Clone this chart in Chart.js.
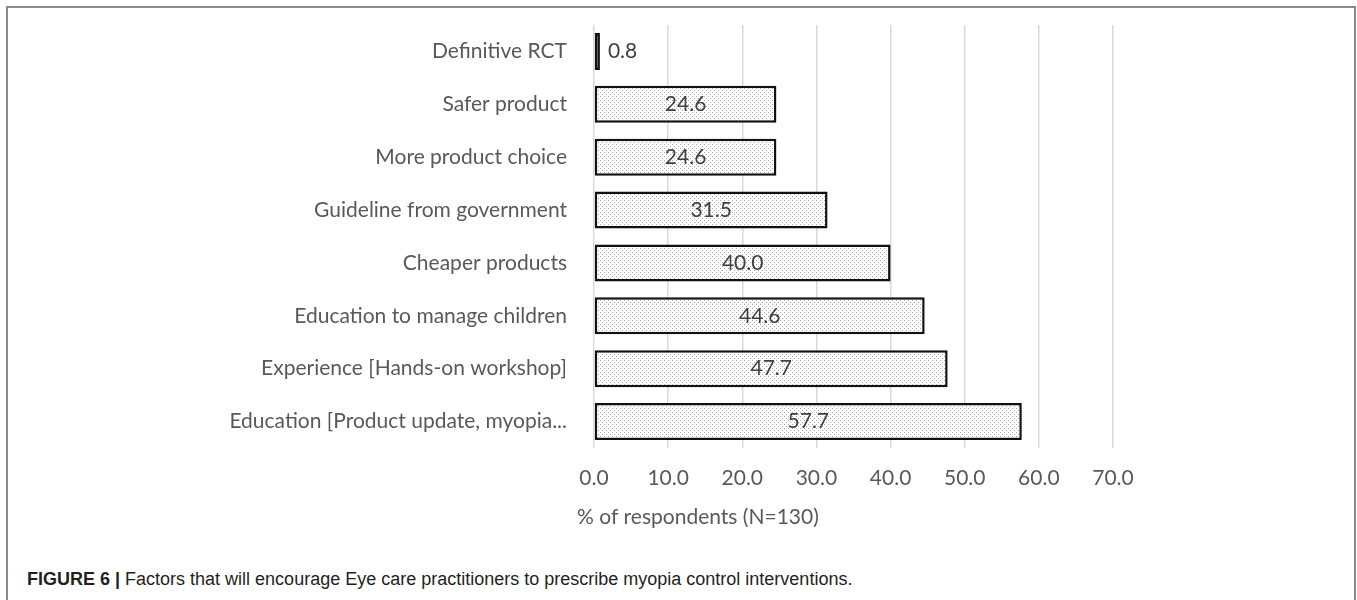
<!DOCTYPE html>
<html>
<head>
<meta charset="utf-8">
<script src="https://cdn.jsdelivr.net/npm/chart.js@4.4.0/dist/chart.umd.min.js"></script>
<style>
  body { margin: 0; background: #fff; width: 1357px; height: 600px; overflow: hidden; position: relative; }
  #frame { position: absolute; left: 6px; top: 6px; width: 1346px; height: 620px; border: 2px solid #8a8a8a; }
  #chartBox { position: absolute; left: 0; top: 0; width: 1357px; height: 560px; }
  #caption { position: absolute; left: 27px; top: 569px; font-family: "Liberation Sans", Arial, sans-serif; font-size: 18px; color: #231f20; white-space: nowrap; }
  #caption b { font-weight: bold; }
</style>
</head>
<body>
<div id="frame"></div>
<div id="chartBox"><canvas id="myChart" width="1357" height="560"></canvas></div>
<div id="caption"><b>FIGURE 6 |</b> Factors that will encourage Eye care practitioners to prescribe myopia control interventions.</div>
<script>
let factors = [
    'Definitive RCT',
    'Safer product',
    'More product choice',
    'Guideline from government',
    'Cheaper products',
    'Education to manage children',
    'Experience [Hands-on workshop]',
    'Education [Product update, myopia...'
];
let percentValues = [0.8, 24.6, 24.6, 31.5, 40.0, 44.6, 47.7, 57.7];
let xTicks = [0, 10, 20, 30, 40, 50, 60, 70];
let axisTitle = '% of respondents (N=130)';

let labelFont = '"Lato", "Open Sans", sans-serif';

// dotted fill like the original bars
let tile = document.createElement('canvas');
tile.width = 4;
tile.height = 4;
let tctx = tile.getContext('2d');
tctx.fillStyle = '#ffffff';
tctx.fillRect(0, 0, 4, 4);
tctx.fillStyle = '#ababab';
tctx.fillRect(0, 0, 1, 1);
tctx.fillRect(2, 2, 1, 1);

let ctx = document.getElementById('myChart').getContext('2d');
let dots = ctx.createPattern(tile, 'repeat');

let valueLabels = {
    id: 'valueLabels',
    afterDatasetsDraw(chart) {
        let c = chart.ctx;
        let meta = chart.getDatasetMeta(0);
        c.save();
        c.font = '21px ' + labelFont;
        c.fillStyle = '#404040';
        c.textBaseline = 'middle';
        meta.data.forEach(function(bar, i) {
            let txt = percentValues[i].toFixed(1);
            let w = c.measureText(txt).width;
            if (bar.x - bar.base > w + 10) {
                c.textAlign = 'center';
                c.fillText(txt, (bar.x + bar.base) / 2, bar.y);
            } else {
                c.textAlign = 'left';
                c.fillText(txt, bar.x + 8, bar.y);
            }
        });
        c.restore();
    }
};

let xTitle = {
    id: 'xTitle',
    afterDraw(chart) {
        let c = chart.ctx;
        c.save();
        c.font = '21px ' + labelFont;
        c.fillStyle = '#595959';
        c.textAlign = 'left';
        c.textBaseline = 'middle';
        c.fillText(axisTitle, chart.chartArea.left - 17, chart.chartArea.bottom + 69);
        c.restore();
    }
};

let myBarChart = new Chart(ctx, {
    type: 'bar',
    data: {
        labels: factors,
        datasets: [{
            data: percentValues,
            backgroundColor: dots,
            borderColor: '#111111',
            borderWidth: 2.5,
            borderSkipped: false,
            barPercentage: 0.7,
            categoryPercentage: 1.0
        }]
    },
    options: {
        indexAxis: 'y',
        responsive: false,
        animation: false,
        layout: { padding: { top: 25, right: 244, left: 0, bottom: 0 } },
        plugins: {
            legend: { display: false },
            tooltip: { enabled: false }
        },
        scales: {
            x: {
                min: 0,
                max: 70,
                afterBuildTicks: function(scale) {
                    scale.ticks = xTicks.map(function(v) { return { value: v }; });
                },
                afterFit: function(scale) { scale.height = 560 - 448; },
                grid: { color: '#d9d9d9', lineWidth: 1.5, drawTicks: false },
                border: { display: false },
                ticks: {
                    padding: 18,
                    color: '#595959',
                    font: { family: labelFont, size: 21 },
                    callback: function(v) { return Number(v).toFixed(1); }
                }
            },
            y: {
                afterFit: function(scale) {
                    scale.width = 594;
                    scale.paddingTop = 0;
                    scale.paddingBottom = 0;
                },
                grid: { display: false, drawTicks: false },
                border: { display: false },
                ticks: {
                    padding: 27,
                    color: '#595959',
                    font: { family: labelFont, size: 21 }
                }
            }
        }
    },
    plugins: [valueLabels, xTitle]
});
</script>
</body>
</html>
